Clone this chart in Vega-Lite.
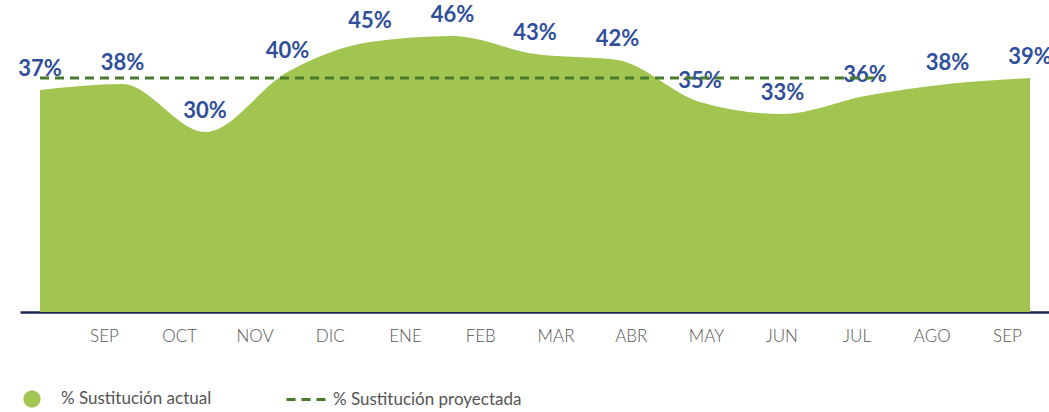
{
  "$schema": "https://vega.github.io/schema/vega-lite/v6.json",
  "width": 1029,
  "height": 312,
  "autosize": {"type": "none"},
  "padding": {"left": 20, "top": 0, "right": 0, "bottom": 100},
  "background": "white",
  "config": {
    "view": {"stroke": null},
    "font": "Lato"
  },
  "datasets": {
    "actual": [
      {"punto": 0, "pct": 0.37, "serie": "% Sustitución actual"},
      {"punto": 1, "pct": 0.38, "serie": "% Sustitución actual"},
      {"punto": 2, "pct": 0.30, "serie": "% Sustitución actual"},
      {"punto": 3, "pct": 0.40, "serie": "% Sustitución actual"},
      {"punto": 4, "pct": 0.45, "serie": "% Sustitución actual"},
      {"punto": 5, "pct": 0.46, "serie": "% Sustitución actual"},
      {"punto": 6, "pct": 0.43, "serie": "% Sustitución actual"},
      {"punto": 7, "pct": 0.42, "serie": "% Sustitución actual"},
      {"punto": 8, "pct": 0.35, "serie": "% Sustitución actual"},
      {"punto": 9, "pct": 0.33, "serie": "% Sustitución actual"},
      {"punto": 10, "pct": 0.36, "serie": "% Sustitución actual"},
      {"punto": 11, "pct": 0.38, "serie": "% Sustitución actual"},
      {"punto": 12, "pct": 0.39, "serie": "% Sustitución actual"}
    ],
    "proyectada": [
      {"inicio": 0, "fin": 10.2, "pct": 0.39, "serie": "% Sustitución proyectada"}
    ],
    "meses": [
      {"m": 1, "mes": "SEP"}, {"m": 2, "mes": "OCT"}, {"m": 3, "mes": "NOV"},
      {"m": 4, "mes": "DIC"}, {"m": 5, "mes": "ENE"}, {"m": 6, "mes": "FEB"},
      {"m": 7, "mes": "MAR"}, {"m": 8, "mes": "ABR"}, {"m": 9, "mes": "MAY"},
      {"m": 10, "mes": "JUN"}, {"m": 11, "mes": "JUL"}, {"m": 12, "mes": "AGO"},
      {"m": 13, "mes": "SEP"}
    ]
  },
  "layer": [
    {
      "layer": [
        {
          "data": {"name": "actual"},
          "mark": {"type": "area", "interpolate": "monotone", "opacity": 1},
          "encoding": {
            "x": {"field": "punto", "type": "quantitative", "axis": null,
                  "scale": {"domain": [-0.2424, 12.2303], "nice": false, "zero": false}},
            "y": {"field": "pct", "type": "quantitative", "axis": null,
                  "scale": {"domain": [0, 0.52], "nice": false}},
            "color": {"field": "serie", "type": "nominal",
                      "scale": {"range": ["#A2C450"]},
                      "legend": {"title": null, "orient": "none", "legendX": 3, "legendY": 390,
                                 "symbolType": "circle", "symbolSize": 300, "symbolOpacity": 1,
                                 "symbolStrokeWidth": 0, "labelLimit": 300,
                                 "labelFont": "Lato", "labelFontSize": 17, "labelColor": "#555555",
                                 "labelOffset": 20, "padding": 0}}
          }
        },
        {
          "data": {"name": "actual"},
          "mark": {"type": "text", "font": "Lato", "fontWeight": "bold", "fontSize": 22,
                   "color": "#2F4F9B", "dy": -21, "baseline": "middle", "align": "center"},
          "encoding": {
            "x": {"field": "punto", "type": "quantitative"},
            "y": {"field": "pct", "type": "quantitative"},
            "text": {"field": "pct", "type": "quantitative", "format": ".0%"}
          }
        },
        {
          "data": {"name": "proyectada"},
          "mark": {"type": "rule", "strokeWidth": 3},
          "encoding": {
            "x": {"field": "inicio", "type": "quantitative"},
            "x2": {"field": "fin"},
            "y": {"field": "pct", "type": "quantitative"},
            "stroke": {"field": "serie", "type": "nominal",
                       "scale": {"range": ["#4A7A2C"]},
                       "legend": {"title": null, "orient": "none", "legendX": 265, "legendY": 378,
                                  "symbolType": "stroke", "symbolSize": 1600, "symbolStrokeWidth": 3,
                                  "labelFont": "Lato", "labelFontSize": 17, "labelColor": "#555555",
                                  "labelOffset": 5, "padding": 0, "labelLimit": 300}},
            "strokeDash": {"field": "serie", "type": "nominal",
                           "scale": {"range": [[9, 6]]},
                           "legend": {"title": null, "orient": "none", "legendX": 265, "legendY": 378,
                                      "symbolType": "stroke", "symbolSize": 1600, "symbolStrokeWidth": 3,
                                      "labelFont": "Lato", "labelFontSize": 17, "labelColor": "#555555",
                                      "labelOffset": 5, "padding": 0, "labelLimit": 300}}
          }
        }
      ]
    },
    {
      "data": {"name": "meses"},
      "mark": {"type": "tick", "opacity": 0},
      "encoding": {
        "x": {"field": "m", "type": "quantitative",
              "scale": {"domain": [-0.1163, 13.558], "nice": false, "zero": false},
              "axis": {"title": null, "orient": "bottom", "values": [1,2,3,4,5,6,7,8,9,10,11,12,13],
                       "labelExpr": "['','SEP','OCT','NOV','DIC','ENE','FEB','MAR','ABR','MAY','JUN','JUL','AGO','SEP'][datum.value]",
                       "ticks": false, "grid": false,
                       "domainColor": "#1B2A55", "domainWidth": 2.5,
                       "labelFont": "Lato", "labelFontWeight": 300, "labelFontSize": 17,
                       "labelColor": "#555555", "labelPadding": 16}}
      }
    }
  ],
  "resolve": {"scale": {"x": "independent"}}
}
